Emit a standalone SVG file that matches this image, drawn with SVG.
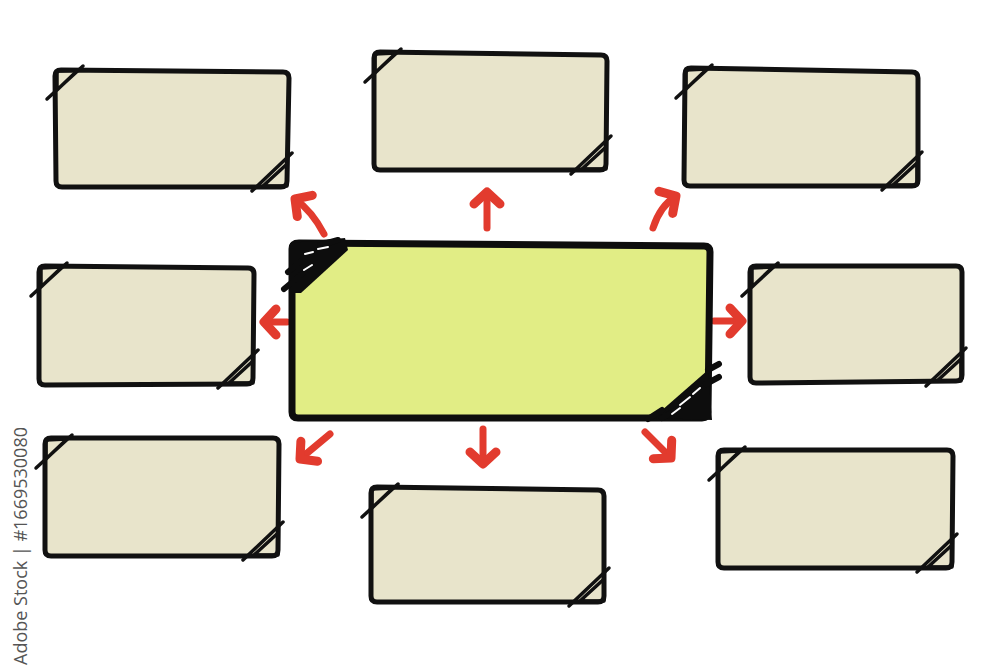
<svg xmlns="http://www.w3.org/2000/svg" xmlns:xlink="http://www.w3.org/1999/xlink" width="1000" height="667" viewBox="0 0 1000 667">
<style>
.box{fill:#e8e4cb;stroke:#111;stroke-width:5;stroke-linejoin:round}
.main{fill:#e1ed85;stroke:#0d0d0d;stroke-width:7;stroke-linejoin:round}
.mark{fill:none;stroke:#111;stroke-width:3.5;stroke-linecap:round;stroke-linejoin:round}
.arr{fill:none;stroke:#e23b2e;stroke-width:7;stroke-linecap:round}
.wm{font-family:"Open Sans","Liberation Sans",sans-serif;font-size:18px;fill:#555}
</style>
<defs>
<g id="tl"><path class="mark" d="M-9,29 L27,-4 M1,20 L1,1 L22,0 Z"/></g>
<g id="brc"><path class="mark" d="M-36,4 L4,-34 M-25,-1 L-1,-1 L-1,-23 Z"/></g>
<marker id="ah" markerUnits="userSpaceOnUse" markerWidth="40" markerHeight="40" viewBox="-20 -20 40 40" refX="0" refY="0" orient="auto" overflow="visible">
<path d="M-12,-13 L0,0 L-12,13" fill="none" stroke="#e23b2e" stroke-width="9" stroke-linecap="round" stroke-linejoin="round"/>
</marker>
</defs>
<rect width="1000" height="667" fill="#fff"/>

<g id="connectors">
<path class="arr" marker-end="url(#ah)" d="M487,228 L487,192"/>
<path class="arr" marker-end="url(#ah)" d="M324,234 Q312,211 295,199"/>
<path class="arr" marker-end="url(#ah)" d="M653,228 Q660,206 676,196"/>
<path class="arr" marker-end="url(#ah)" d="M287,322 L264,322"/>
<path class="arr" marker-end="url(#ah)" d="M714,321 L742,321"/>
<path class="arr" marker-end="url(#ah)" d="M330,434 L300,459"/>
<path class="arr" marker-end="url(#ah)" d="M483,429 L483,464"/>
<path class="arr" marker-end="url(#ah)" d="M645,432 L671,458"/>
</g>

<g id="node-center">
<path class="main" d="M299,243 L704,246 Q710,246 710,252 L708,412 Q708,418 702,418 L298,418 Q292,418 292,412 L292,249 Q292,243 299,243 Z"/>
<polygon points="290,243 345,238 348,250 301,293 290,293" fill="#0d0d0d"/>
<path d="M284,289 L302,274 M288,272 L300,262 M320,245 L338,240" stroke="#0d0d0d" stroke-width="6" stroke-linecap="round"/>
<path d="M305,254 L313,252 M318,249 L328,247 M304,270 L312,265" stroke="#fff" stroke-width="2" stroke-linecap="round"/>
<polygon points="653,418 708,370 712,420" fill="#0d0d0d"/>
<path d="M708,370 L719,364 M706,384 L719,377 M648,419 L662,410 M662,418 L676,410" stroke="#0d0d0d" stroke-width="6" stroke-linecap="round"/>
<path d="M680,405 L690,397 M693,394 L700,388 M672,414 L680,408" stroke="#fff" stroke-width="2" stroke-linecap="round"/>
</g>

<g id="node-top-left">
<path class="box" d="M61,70 L283,72 Q289,72 289,78 L287,181 Q287,187 281,187 L62,187 Q56,187 56,181 L55,76 Q55,70 61,70 Z"/>
<use href="#tl" x="56" y="70"/><use href="#brc" x="288" y="187"/>
</g>
<g id="node-top-middle">
<path class="box" d="M380,52 L601,55 Q607,55 607,61 L606,164 Q606,170 600,170 L380,170 Q374,170 374,164 L374,58 Q374,52 380,52 Z"/>
<use href="#tl" x="374" y="53"/><use href="#brc" x="607" y="170"/>
</g>
<g id="node-top-right">
<path class="box" d="M691,68 L912,72 Q918,72 918,78 L918,180 Q918,186 912,186 L690,186 Q684,186 684,180 L685,74 Q685,68 691,68 Z"/>
<use href="#tl" x="685" y="69"/><use href="#brc" x="918" y="186"/>
</g>
<g id="node-middle-left">
<path class="box" d="M45,266 L248,268 Q254,268 254,274 L253,378 Q253,384 247,384 L45,385 Q39,385 39,379 L39,272 Q39,266 45,266 Z"/>
<use href="#tl" x="40" y="267"/><use href="#brc" x="254" y="384"/>
</g>
<g id="node-middle-right">
<path class="box" d="M756,266 L956,266 Q962,266 962,272 L962,375 Q962,381 956,381 L756,383 Q750,383 750,377 L750,272 Q750,266 756,266 Z"/>
<use href="#tl" x="751" y="267"/><use href="#brc" x="962" y="382"/>
</g>
<g id="node-bottom-left">
<path class="box" d="M51,438 L273,438 Q279,438 279,444 L278,550 Q278,556 272,556 L51,556 Q45,556 45,550 L45,444 Q45,438 51,438 Z"/>
<use href="#tl" x="45" y="439"/><use href="#brc" x="279" y="556"/>
</g>
<g id="node-bottom-middle">
<path class="box" d="M377,487 L598,490 Q604,490 604,496 L604,596 Q604,602 598,602 L377,602 Q371,602 371,596 L371,493 Q371,487 377,487 Z"/>
<use href="#tl" x="371" y="488"/><use href="#brc" x="605" y="602"/>
</g>
<g id="node-bottom-right">
<path class="box" d="M724,450 L947,450 Q953,450 953,456 L952,562 Q952,568 946,568 L724,568 Q718,568 718,562 L718,456 Q718,450 724,450 Z"/>
<use href="#tl" x="718" y="451"/><use href="#brc" x="953" y="568"/>
</g>

<text class="wm" transform="translate(27,665) rotate(-90)">Adobe Stock | #1669530080</text>
</svg>
